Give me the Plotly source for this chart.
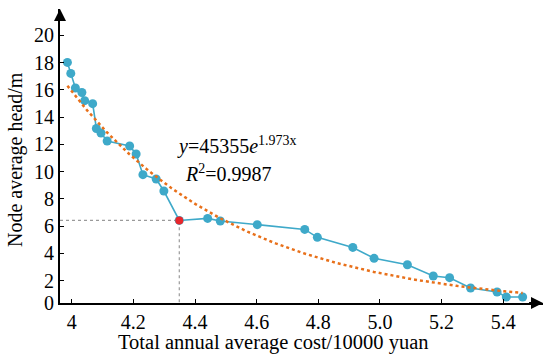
import numpy as np
import plotly.graph_objects as go

# Data
cost = [3.986, 3.997, 4.012, 4.033, 4.042, 4.068, 4.080, 4.095, 4.115, 4.188,
        4.209, 4.231, 4.274, 4.299, 4.349, 4.441, 4.482, 4.602, 4.756, 4.797,
        4.912, 4.981, 5.089, 5.173, 5.226, 5.294, 5.380, 5.410, 5.463]
head = [18.02, 17.21, 16.14, 15.81, 15.21, 14.99, 13.17, 12.84, 12.25, 11.88,
        11.30, 9.78, 9.46, 8.58, 6.42, 6.57, 6.38, 6.11, 5.76, 5.18,
        4.44, 3.64, 3.17, 2.34, 2.22, 1.46, 1.17, 0.80, 0.80]
selected_index = 14  # highlighted (red) solution

# Exponential trend line as drawn in the picture: y = a * exp(-b * x)
trend_a = 24000.0
trend_b = 1.83

x_ticks = [4.0, 4.2, 4.4, 4.6, 4.8, 5.0, 5.2, 5.4]
x_ticktext = ["4", "4.2", "4.4", "4.6", "4.8", "5.0", "5.2", "5.4"]
y_ticks = [2, 4, 6, 8, 10, 12, 14, 16, 18, 20]
y_ticktext = ["2", "4", "6", "8", "10", "12", "14", "16", "18", "20"]

eq_text = "<i>y</i>=45355<i>e</i><sup>1.973x</sup>"
r2_text = "<i>R</i><sup>2</sup>=0.9987"
x_title = "Total annual average cost/10000 yuan"
y_title = "Node average head/m"

XMIN, XMAX = 3.962, 5.529
YMIN, YMAX = 0.36, 21.94

fit_x = np.linspace(min(cost), max(cost), 200)
fit_y = trend_a * np.exp(-trend_b * fit_x)

FONT = "Liberation Serif"
BLUE = "#3ea9c9"
ORANGE = "#e8701a"

fig = go.Figure()
sx, sy = cost[selected_index], head[selected_index]
# guide lines for selected point
fig.add_trace(go.Scatter(x=[XMIN, sx, sx], y=[sy, sy, YMIN], mode="lines",
                         line=dict(color="#9a9a9a", width=1.2, dash="dot"),
                         hoverinfo="skip", showlegend=False))
fig.add_trace(go.Scatter(x=cost, y=head, mode="lines+markers",
                         line=dict(color=BLUE, width=1.6),
                         marker=dict(color=BLUE, size=9),
                         showlegend=False))
fig.add_trace(go.Scatter(x=fit_x, y=fit_y, mode="lines",
                         line=dict(color=ORANGE, width=2.5, dash="dot"),
                         showlegend=False))
fig.add_trace(go.Scatter(x=[sx], y=[sy], mode="markers",
                         marker=dict(color="#e8262b", size=8),
                         showlegend=False))

L, R, T, B = 60, 7, 9, 55
fig.update_layout(
    width=550, height=358,
    margin=dict(l=L, r=R, t=T, b=B),
    paper_bgcolor="white", plot_bgcolor="white",
    font=dict(family=FONT, size=20, color="black"),
    showlegend=False,
)
fig.update_xaxes(range=[XMIN, XMAX], tickvals=x_ticks, ticktext=x_ticktext,
                 showgrid=False, zeroline=False, showline=True,
                 linecolor="black", linewidth=2, ticks="inside", ticklen=4,
                 tickcolor="black", tickfont=dict(family=FONT, size=20))
fig.update_yaxes(range=[YMIN, YMAX], tickvals=[YMIN] + y_ticks,
                 ticktext=["0"] + y_ticktext,
                 showgrid=False, zeroline=False, showline=True,
                 linecolor="black", linewidth=2, ticks="inside", ticklen=4,
                 tickcolor="black", tickfont=dict(family=FONT, size=20))

# axis arrows
fig.add_annotation(x=XMIN, y=YMAX, ax=XMIN, ay=YMAX - 1, xref="x", yref="y",
                   axref="x", ayref="y", showarrow=True, arrowhead=2,
                   arrowsize=1.2, arrowwidth=2, arrowcolor="black", text="")
fig.add_annotation(x=XMAX, y=YMIN, ax=XMAX - 0.05, ay=YMIN, xref="x", yref="y",
                   axref="x", ayref="y", showarrow=True, arrowhead=2,
                   arrowsize=1.2, arrowwidth=2, arrowcolor="black", text="")

fig.add_annotation(x=4.535, y=11.9, xref="x", yref="y", text=eq_text,
                   showarrow=False, font=dict(family=FONT, size=20),
                   xanchor="center", yanchor="middle")
fig.add_annotation(x=4.51, y=9.9, xref="x", yref="y", text=r2_text,
                   showarrow=False, font=dict(family=FONT, size=20),
                   xanchor="center", yanchor="middle")

pw, ph = 550 - L - R, 358 - T - B
fig.add_annotation(x=(273 - L) / pw, y=-(342 - (358 - B)) / ph,
                   xref="paper", yref="paper", text=x_title, showarrow=False,
                   font=dict(family=FONT, size=20.5),
                   xanchor="center", yanchor="middle")
fig.add_annotation(x=-(L - 15) / pw, y=((358 - B) - 160) / ph,
                   xref="paper", yref="paper", text=y_title, showarrow=False,
                   textangle=-90, font=dict(family=FONT, size=20),
                   xanchor="center", yanchor="middle")

fig.write_html("out.html", config={"displayModeBar": False},
               post_script="document.body.style.margin='0';document.body.style.padding='0';")
